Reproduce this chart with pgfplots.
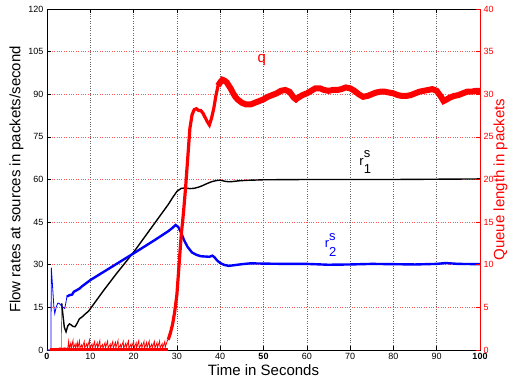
\documentclass[border=0pt]{standalone}
\usepackage{pgfplots}
\pgfplotsset{compat=1.18}
\usepackage{fontspec}
\setmainfont{Liberation Sans}
\newcommand{\rsub}[1]{r\rlap{\raisebox{0.55em}{s}}\raisebox{-0.68em}{#1}}
\begin{document}
\begin{tikzpicture}
\path[use as bounding box] (-47pt,-35pt) rectangle (461pt,350pt);
\begin{axis}[
  scale only axis, width=433pt, height=341pt,
  at={(0pt,0pt)}, anchor=south west,
  xmin=0, xmax=100, ymin=0, ymax=120,
  xtick={0,10,...,100}, ytick={0,15,...,120},
  xticklabels={\textbf{0},10,20,30,40,\textbf{50},60,70,80,90,\textbf{100}},
  ytick pos=left,
  tick align=inside, major tick length=4pt,
  tick style={black, line width=0.5pt},
  axis line style={black, line width=0.8pt},
  xmajorgrids, ymajorgrids,
  x grid style={dotted, black!60, line width=0.5pt},
  y grid style={dotted, red!65, line width=0.5pt},
  /pgf/number format/assume math mode=true,
  tick label style={font=\fontsize{9}{10}\selectfont},
  xlabel={Time in Seconds},
  ylabel={Flow rates at sources in packets/second},
  label style={font=\fontsize{15}{16}\selectfont},
  xlabel style={yshift=2pt},
  ylabel style={yshift=-2pt},
]
% r1 (black)
\addplot[black!60, line width=0.6pt] coordinates {(0,0)(3.3,0)(3.4,16.4)};
\addplot[black, line width=1.4pt] coordinates {
(3.4,16.4)(3.7,12)(4.0,8)(4.4,6.4)(4.8,8.5)(5.2,9.2)(5.6,8.8)(6.0,8.3)(6.5,8.2)(7.0,9.5)(7.5,11)(8.0,11.5)(8.5,12.2)(9.0,12.9)(9.5,13.5)(10,14.5)(11,16.6)(12,18.7)(13,20.8)(14,22.8)(15,24.8)(16,26.8)(17,28.7)(18,30.6)(19,32.5)(20,34.4)(21,36.5)(22,38.6)(23,40.7)(24,42.8)(25,44.9)(26,47)(27,49.1)(28,51.2)(29,53.6)(30,55.8)(31,56.9)(32,57)(33,56.8)(34,56.9)(35,57.3)(36,57.9)(37,58.6)(38,59.2)(39,59.6)(40,59.8)(41,59.4)(42,59.2)(43,59.3)(44,59.5)(46,59.7)(48,59.8)(50,59.9)(60,60)(70,60)(80,60)(90,60.1)(100,60.2)
};
% r2 (blue) start thin
\addplot[blue, line width=0.8pt] coordinates {
(0,0)(0.9,0)(1.0,29)(1.3,22)(1.6,15)(1.8,12.8)(2.1,15)(2.5,16.5)(2.9,16.3)(3.3,15.6)(3.7,15)(4.1,14.6)(4.4,17)(4.6,18.8)(5.2,19.3)
};
\addplot[blue, line width=2.4pt] coordinates {
(4.6,18.8)(5.2,19.3)(5.8,19.5)(6.2,20.5)(6.8,21)(7.5,21.6)(8,22.3)(10,24.6)(15,29.3)(20,34)(25,38.8)(28,41.8)(29,43)(29.7,44)(30.3,43.3)(31,41.2)(31.7,38.5)(32.5,36.2)(33.5,34.3)(34.5,33.5)(35.5,33)(36.5,32.9)(37.5,32.8)(38.2,33.2)(38.7,32.6)(39.3,31.5)(40,30.6)(41,29.9)(42,29.6)(43,29.8)(45,30.2)(47,30.5)(50,30.4)(55,30.3)(60,30.3)(65,30)(70,30.1)(75,30.3)(80,30.2)(85,30.1)(90,30.3)(92,30.6)(95,30.3)(100,30.2)
};
\node[red, font=\fontsize{15}{16}\selectfont] at (axis cs:49.6,102) {q};
\node[black, font=\fontsize{13}{14}\selectfont] at (axis cs:73.5,66) {\rsub{1}};
\node[blue, font=\fontsize{13}{14}\selectfont] at (axis cs:65.5,37) {\rsub{2}};
\end{axis}
\begin{axis}[
  scale only axis, width=433pt, height=341pt,
  at={(0pt,0pt)}, anchor=south west,
  xmin=0, xmax=100, ymin=0, ymax=40,
  axis x line=none, axis y line*=right,
  ytick={0,5,...,40},
  tick align=inside, major tick length=4pt,
  ytick style={red, line width=0.5pt},
  y axis line style={red, line width=0.8pt},
  yticklabel style={red},
  /pgf/number format/assume math mode=true,
  tick label style={font=\fontsize{9}{10}\selectfont},
  ylabel={Queue length in packets},
  ylabel style={red, font=\fontsize{15}{16}\selectfont, yshift=7pt},
]
% q early base and spikes
\addplot[red, line width=3pt] coordinates {(0.8,0.1)(28,0.1)};
\addplot[red, line width=0.8pt] coordinates {
(0.8,0)(1.0,0.15)(1.5,0.1)(2.0,0.2)(2.5,0.15)(3.0,0.25)(3.5,0.2)(4.0,0.25)(4.5,0.2)(4.8,0.2)(5.0,1.0)(5.15,0.2)(5.5,0.8)(5.6,0.2)(6.0,1.1)(6.1,0.25)(6.5,0.7)(6.6,0.2)(7.0,0.9)(7.1,0.2)(7.5,1.05)(7.6,0.25)(8.0,0.6)(8.1,0.2)(8.6,1.0)(8.7,0.25)(9.2,0.75)(9.3,0.2)(9.8,1.15)(9.9,0.25)(10.4,0.7)(10.5,0.2)(11.0,1.0)(11.1,0.25)(11.6,0.85)(11.7,0.2)(12.2,1.1)(12.3,0.25)(12.8,0.65)(12.9,0.2)(13.4,0.85)(13.5,0.25)(14.0,1.05)(14.1,0.2)(14.6,0.7)(14.7,0.25)(15.2,1.0)(15.3,0.2)(15.8,0.9)(15.9,0.25)(16.4,1.1)(16.5,0.2)(17.0,0.65)(17.1,0.25)(17.6,1.0)(17.7,0.2)(18.2,0.8)(18.3,0.25)(18.8,1.05)(18.9,0.2)(19.4,0.7)(19.5,0.25)(20.0,1.0)(20.1,0.2)(20.6,0.85)(20.7,0.25)(21.2,1.1)(21.3,0.2)(21.8,0.75)(21.9,0.25)(22.4,1.0)(22.5,0.2)(23.0,0.9)(23.1,0.25)(23.6,1.05)(23.7,0.2)(24.2,0.7)(24.3,0.25)(24.8,1.0)(24.9,0.2)(25.4,0.85)(25.5,0.25)(26.0,1.05)(26.1,0.2)(26.6,0.75)(26.7,0.25)(27.2,1.0)(27.3,0.3)(27.8,1.1)(28.0,1.2)
};
% q rise and steady
\addplot[red, line width=3.2pt] coordinates {
(28,1.2)(28.5,2)(29,3)(29.5,4.5)(30,6.5)(30.5,10)(31,13.5)(31.5,16)(32,19)(32.5,22.5)(33,26)(33.5,27.6)(34,28.2)(34.5,28.3)(35,28.1)(35.5,28.1)(36,27.8)(36.5,27.3)(37,26.8)(37.5,26.4)(38,27.2)(38.5,28.3)(39,29.8)(39.5,31)(40,31.4)(40.5,31.7)(41,31.6)(41.5,31.4)(42,31)(42.5,30.6)(43,30.1)
};
\addplot[red, line width=6pt] coordinates {
(39.5,31)(40,31.4)(40.5,31.7)(41,31.6)(41.5,31.4)(42,31)(42.5,30.6)(43,30.1)(43.5,29.7)(44,29.4)(45,29)(46,28.8)(47,28.8)(48,29)(49,29.2)(50,29.4)(51,29.7)(52,29.9)(53,30.1)(54,30.4)(55,30.5)(56,30.3)(57,29.6)(57.5,29.4)(58,29.6)(59,29.9)(60,30.1)(61,30.4)(62,30.7)(63,30.7)(64,30.5)(65,30.4)(66,30.5)(67,30.5)(68,30.6)(69,30.8)(70,30.7)(71,30.4)(72,30.0)(73,29.7)(74,29.8)(75,30.0)(76,30.2)(77,30.3)(78,30.3)(79,30.2)(80,30.1)(81,29.9)(82,29.8)(83,29.8)(84,29.9)(85,30.1)(86,30.3)(87,30.4)(88,30.5)(89,30.6)(90,30.4)(91,29.7)(91.6,29.2)(92,29.3)(93,29.6)(94,29.8)(95,29.9)(96,30.1)(97,30.3)(98,30.3)(99,30.4)(100,30.4)
};
\end{axis}
\end{tikzpicture}
\end{document}
